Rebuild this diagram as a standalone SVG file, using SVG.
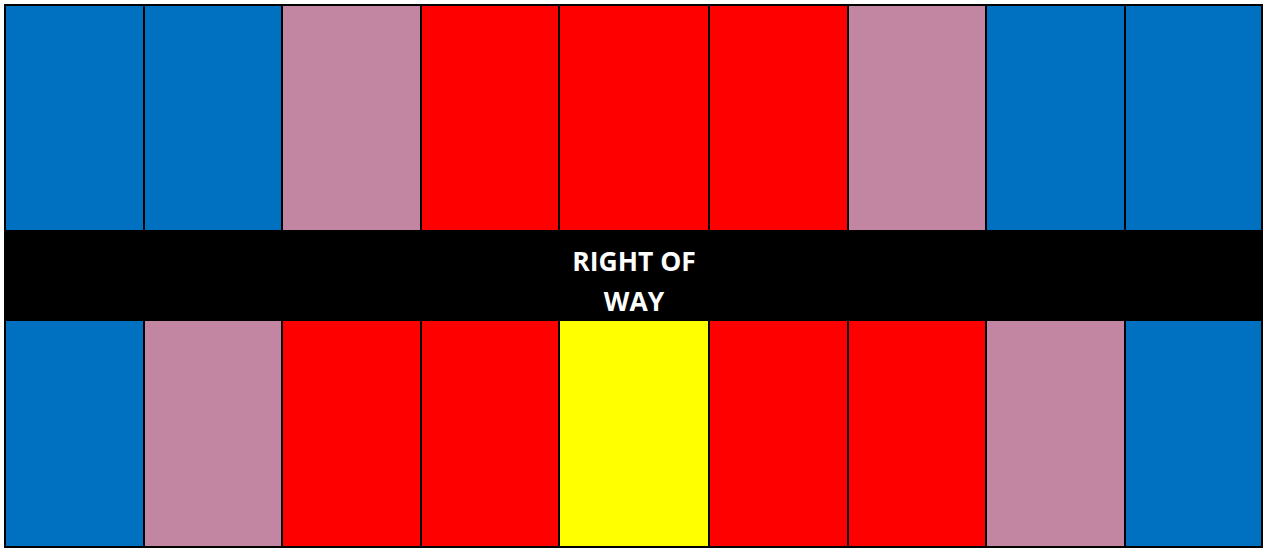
<svg xmlns="http://www.w3.org/2000/svg" width="1263" height="548" viewBox="0 0 1263 548">
<style>
.c{stroke:#000;stroke-width:2}
.b{fill:#0070C0}.p{fill:#C285A2}.r{fill:#FF0000}.y{fill:#FFFF00}
.t{font-family:"Open Sans","Liberation Sans",sans-serif;font-weight:bold;font-size:26.5px;fill:#fff;text-anchor:middle}
</style>
<rect width="1263" height="548" fill="#fff"/>
<g id="top-row">
<rect id="t1" class="c b" x="5" y="5" width="139" height="226"/>
<rect id="t2" class="c b" x="144" y="5" width="138" height="226"/>
<rect id="t3" class="c p" x="282" y="5" width="139" height="226"/>
<rect id="t4" class="c r" x="421" y="5" width="138" height="226"/>
<rect id="t5" class="c r" x="559" y="5" width="150" height="226"/>
<rect id="t6" class="c r" x="709" y="5" width="139" height="226"/>
<rect id="t7" class="c p" x="848" y="5" width="138" height="226"/>
<rect id="t8" class="c b" x="986" y="5" width="139" height="226"/>
<rect id="t9" class="c b" x="1125" y="5" width="137" height="226"/>
</g>
<g id="bottom-row">
<rect id="b1" class="c b" x="5" y="320" width="139" height="227"/>
<rect id="b2" class="c p" x="144" y="320" width="138" height="227"/>
<rect id="b3" class="c r" x="282" y="320" width="139" height="227"/>
<rect id="b4" class="c r" x="421" y="320" width="138" height="227"/>
<rect id="b5" class="c y" x="559" y="320" width="150" height="227"/>
<rect id="b6" class="c r" x="709" y="320" width="139" height="227"/>
<rect id="b7" class="c r" x="848" y="320" width="138" height="227"/>
<rect id="b8" class="c p" x="986" y="320" width="139" height="227"/>
<rect id="b9" class="c b" x="1125" y="320" width="137" height="227"/>
</g>
<g id="right-of-way">
<rect x="4" y="231" width="1259" height="89" fill="#000"/>
<text class="t" x="634" y="271">RIGHT OF</text>
<text class="t" x="634" y="311">WAY</text>
</g>
<g id="connectors"/>
</svg>
